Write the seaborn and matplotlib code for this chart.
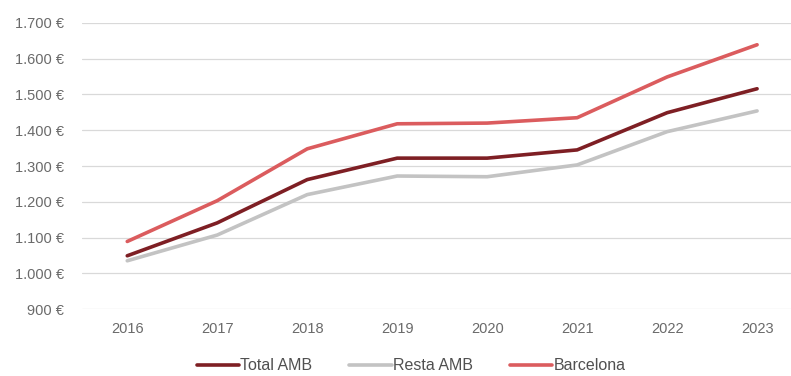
import matplotlib
matplotlib.use("Agg")
import matplotlib.pyplot as plt
import seaborn as sns
import pandas as pd

years = ["2016", "2017", "2018", "2019", "2020", "2021", "2022", "2023"]
total_amb = [1049, 1141, 1262, 1322, 1322, 1345, 1449, 1516]
resta_amb = [1035, 1107, 1220, 1272, 1270, 1303, 1396, 1454]
barcelona = [1089, 1203, 1348, 1418, 1420, 1435, 1549, 1639]

series_names = ["Total AMB", "Resta AMB", "Barcelona"]
series_colors = ["#7E1F24", "#C3C3C3", "#DB5C5E"]

df = pd.DataFrame({
    "year": years * 3,
    "value": total_amb + resta_amb + barcelona,
    "serie": [series_names[0]] * 8 + [series_names[1]] * 8 + [series_names[2]] * 8,
})

sns.set_theme(style="white")
plt.rcParams["font.family"] = ["Liberation Sans", "DejaVu Sans"]

fig = plt.figure(figsize=(7.91, 3.76), dpi=100)
ax = fig.add_axes([0.104, 0.178, 0.91, 0.761])

sns.lineplot(data=df, x="year", y="value", hue="serie", hue_order=series_names,
             palette=series_colors, linewidth=2.6, sort=False, ax=ax, legend=True)

ax.set_xlim(-0.5, 7.5)
ax.set_ylim(900, 1700)
ticks = list(range(900, 1701, 100))
ax.set_yticks(ticks)
ax.set_yticklabels([f"{t:,}".replace(",", ".") + " €" for t in ticks])
ax.grid(axis="y", color="#D9D9D9", linewidth=0.9)
ax.set_axisbelow(True)
for s in ax.spines.values():
    s.set_visible(False)
ax.tick_params(axis="both", length=0, labelsize=10.5, labelcolor="#6A6A6A")
ax.tick_params(axis="x", pad=9.5)
ax.tick_params(axis="y", pad=13)
ax.set_xlabel("")
ax.set_ylabel("")

handles, labels = ax.get_legend_handles_labels()
ax.legend(handles, labels, loc="lower center", bbox_to_anchor=(0.457, -0.275),
          ncol=3, frameon=False, fontsize=11.5, handlelength=2.65,
          handletextpad=0.1, columnspacing=2.3, labelcolor="#505050")

fig.savefig("out.png", dpi=100)
